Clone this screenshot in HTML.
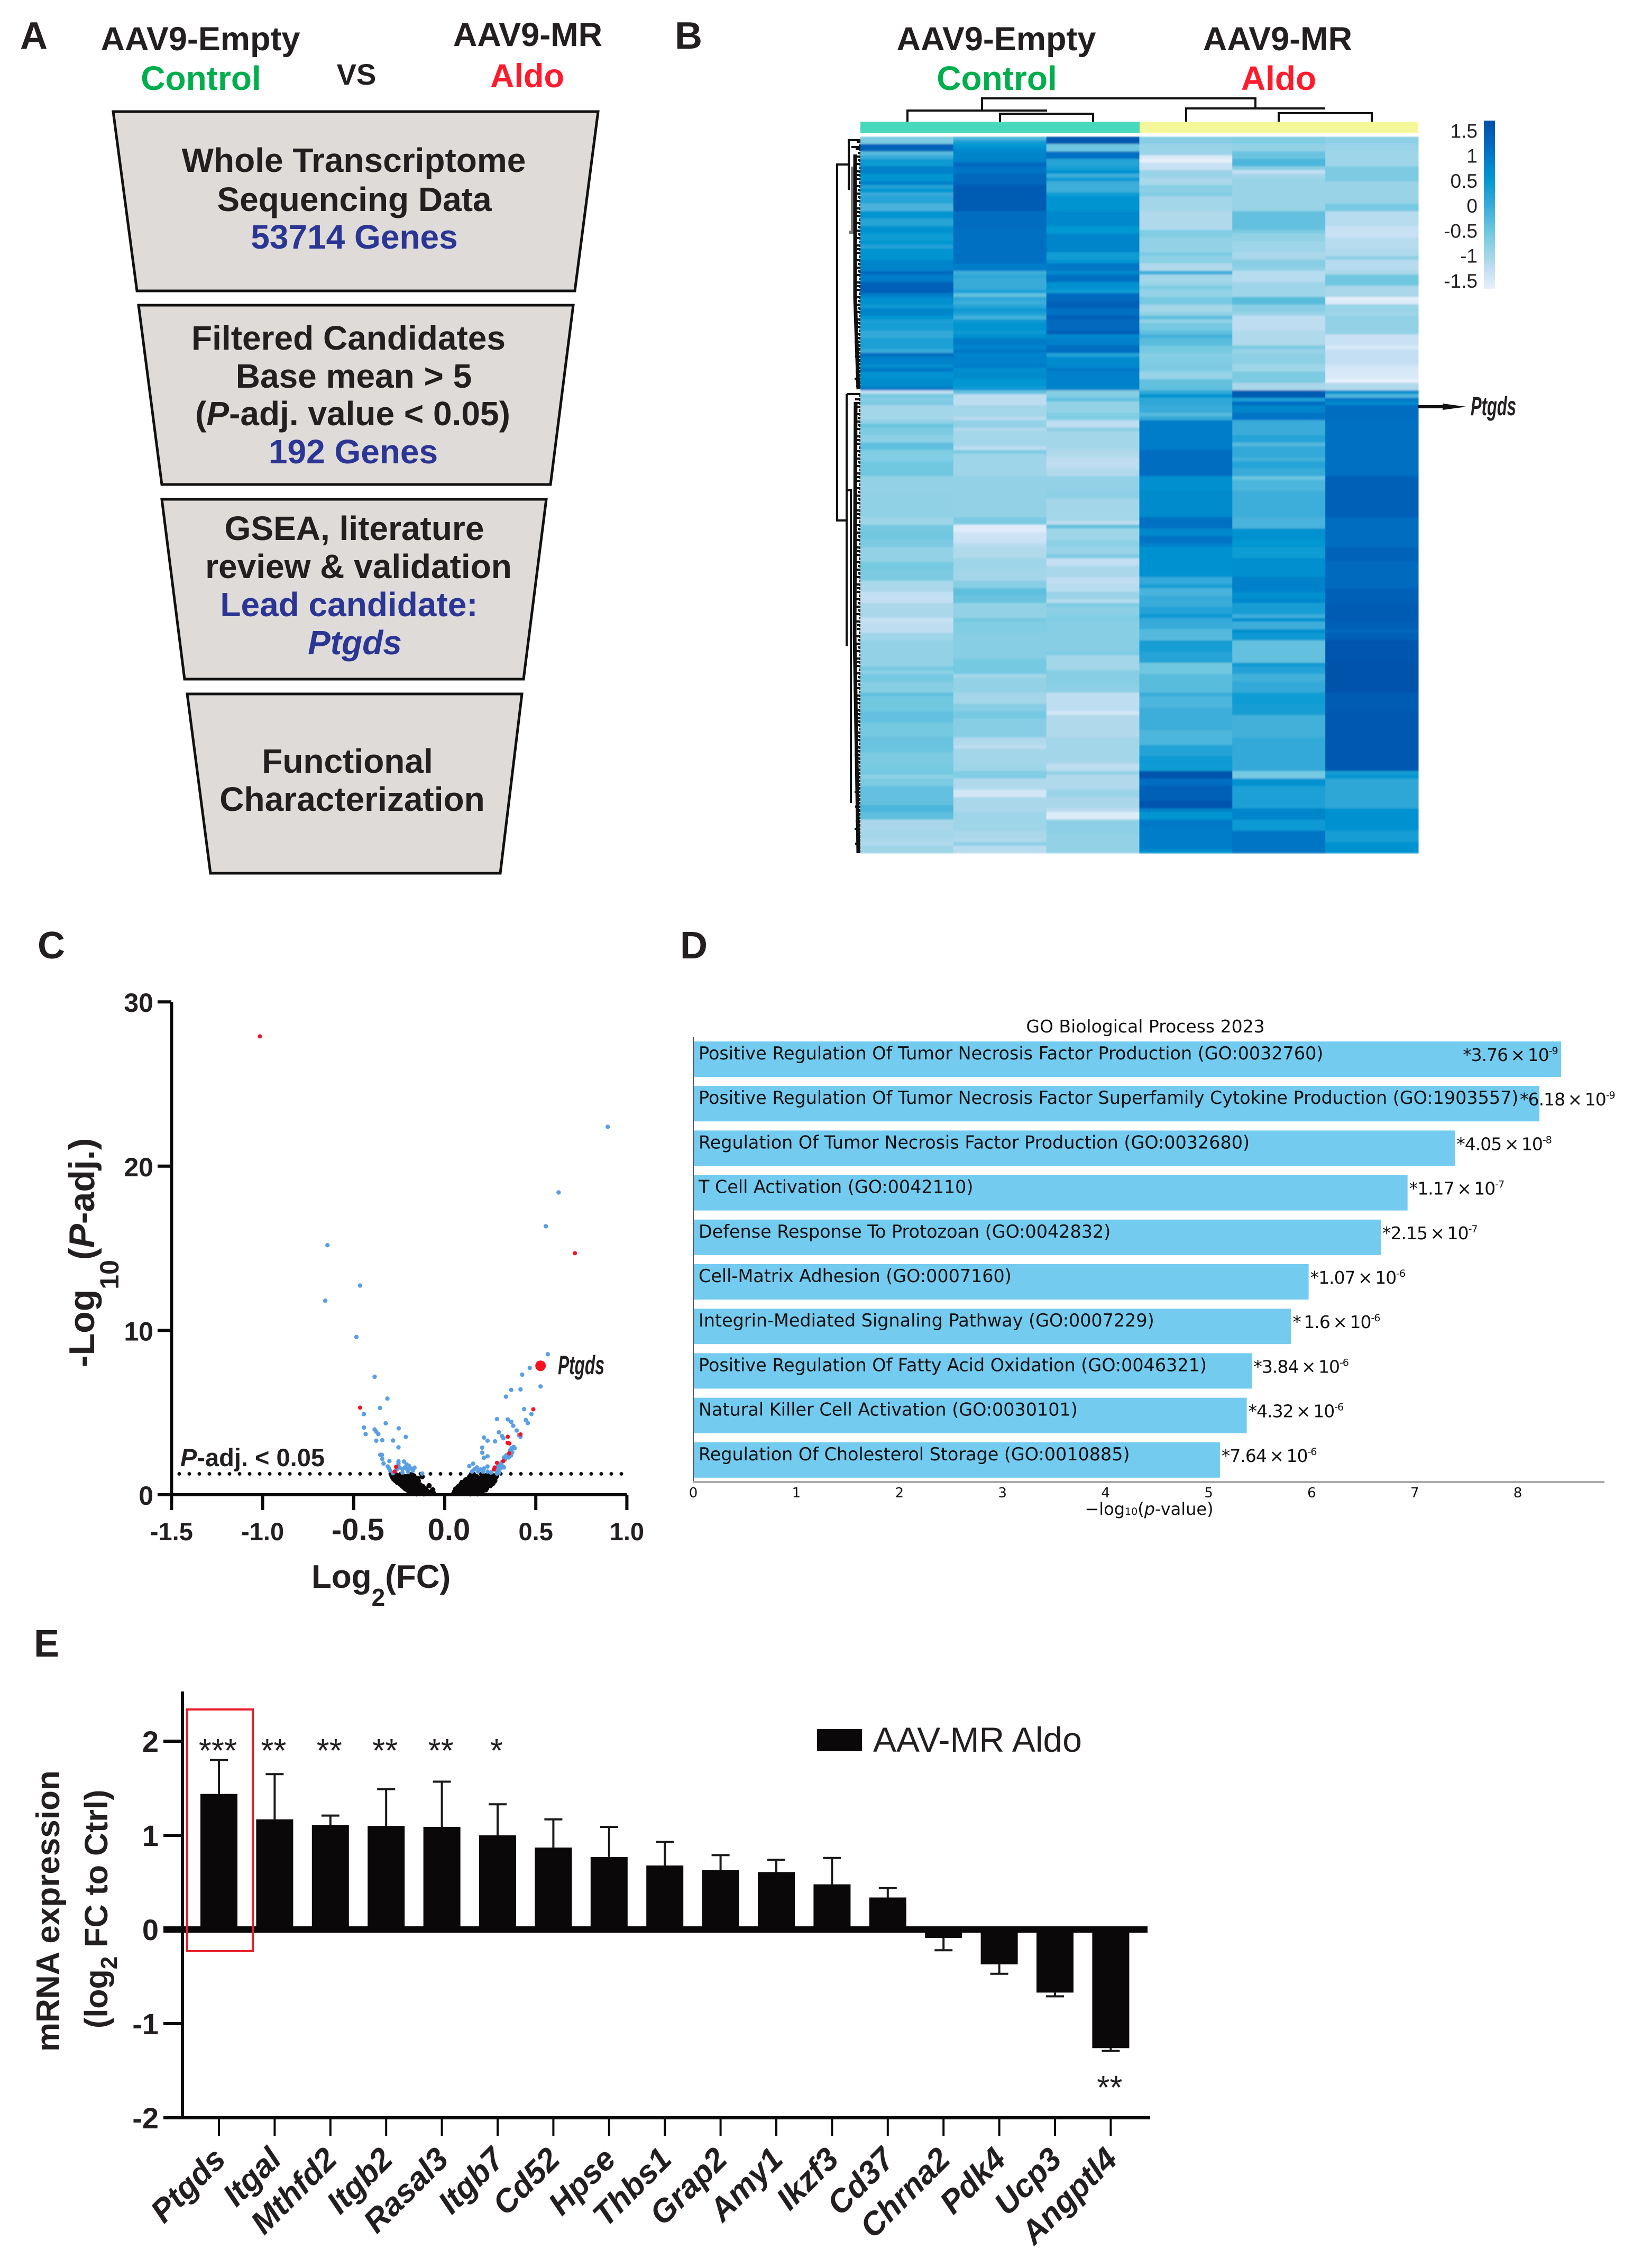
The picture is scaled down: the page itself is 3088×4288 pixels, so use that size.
<!DOCTYPE html>
<html lang="en">
<head>
<meta charset="utf-8">
<title>AAV9-MR Aldo transcriptomics figure</title>
<style>
html,body{margin:0;padding:0;background:#fff}
svg{display:block}
text{font-family:"Liberation Sans",sans-serif;fill:#231f20}
.b{font-weight:700}
.gr{fill:#00ae4d}
.rd{fill:#ff1a2c}
.nv{fill:#2b3594}
.trap{fill:#dedbd8;stroke:#111;stroke-width:5}
.dj{font-family:"DejaVu Sans",sans-serif;font-size:30px;fill:#111}
</style>
</head>
<body>
<svg id="figure" xmlns="http://www.w3.org/2000/svg" width="3088" height="4288" viewBox="0 0 3088 4288">
<rect width="3088" height="4288" fill="#fff"/>

<g id="panel-a">
<text class="b" x="64" y="92" font-size="72" text-anchor="middle">A</text>
<text class="b" x="379" y="95" font-size="63" text-anchor="middle">AAV9-Empty</text>
<text class="b gr" x="380" y="170" font-size="64" text-anchor="middle">Control</text>
<text class="b" x="674" y="160" font-size="56" text-anchor="middle">VS</text>
<text class="b" x="998" y="87" font-size="63" text-anchor="middle">AAV9-MR</text>
<text class="b rd" x="997" y="165" font-size="63" text-anchor="middle">Aldo</text>
<polygon class="trap" points="214,211 1131,211 1087,550 259,550"/>
<polygon class="trap" points="262,577 1084,577 1041,916 306,916"/>
<polygon class="trap" points="306,944 1033,944 990,1284 349,1284"/>
<polygon class="trap" points="354,1312 987,1312 946,1651 398,1651"/>
<g class="b" font-size="64" text-anchor="middle">
<text class="b" x="669" y="325">Whole Transcriptome</text>
<text class="b" x="670" y="399">Sequencing Data</text>
<text class="b nv" x="670" y="470">53714 Genes</text>
<text class="b" x="659" y="661">Filtered Candidates</text>
<text class="b" x="669" y="733">Base mean &gt; 5</text>
<text class="b" x="667" y="804">(<tspan font-style="italic">P</tspan>-adj. value &lt; 0.05)</text>
<text class="b nv" x="668" y="876">192 Genes</text>
<text class="b" x="670" y="1021">GSEA, literature</text>
<text class="b" x="678" y="1093">review &amp; validation</text>
<text class="b nv" x="660" y="1165">Lead candidate:</text>
<text class="b nv" x="671" y="1237" font-style="italic">Ptgds</text>
<text class="b" x="657" y="1461">Functional</text>
<text class="b" x="666" y="1533">Characterization</text>
</g>
</g>

<g id="panel-b">
<text class="b" x="1302" y="92" font-size="72" text-anchor="middle">B</text>
<text class="b" x="1884" y="95" font-size="63" text-anchor="middle">AAV9-Empty</text>
<text class="b gr" x="1885" y="170" font-size="64" text-anchor="middle">Control</text>
<text class="b" x="2416" y="95" font-size="63" text-anchor="middle">AAV9-MR</text>
<text class="b rd" x="2418" y="170" font-size="64" text-anchor="middle">Aldo</text>
<rect x="1627" y="230" width="528" height="21" fill="#48d9bd"/>
<rect x="2155" y="230" width="527" height="21" fill="#f5f79b"/>
<path d="M1857 208V186H2374V206M1716 230V209H1980M1891 230V215H2067V230M2243 230V205H2506M2418 230V214H2594V230" fill="none" stroke="#111" stroke-width="4"/>
<path d="M1605 311H1583V984H1600M1627 265H1605V359M1627 278H1610M1601 745H1627M1601 745V1222M1601 927H1609V1518" fill="none" stroke="#111" stroke-width="4"/>
<path d="M1612 315V439H1605" fill="none" stroke="#777" stroke-width="6"/>
<g id="row-dendro-clump"></g>
<defs>
<linearGradient id="cbar" x1="0" y1="1" x2="0" y2="0"></linearGradient>
<filter id="rowBlur" x="0" y="0" width="100%" height="100%"><feGaussianBlur stdDeviation="0 1.6"/></filter>
</defs>
<g id="heatmap-cells" filter="url(#rowBlur)"></g>
<rect x="2806" y="228" width="21" height="318" fill="url(#cbar)"/>
<g id="cbar-labels"></g>
<path d="M2682 769H2735" stroke="#111" stroke-width="6"/>
<polygon points="2728,763 2773,769 2728,775" fill="#111"/>
<text x="2781" y="785" font-size="50" font-style="italic" font-weight="700" textLength="86" lengthAdjust="spacingAndGlyphs">Ptgds</text>
</g>

<g id="panel-c">
<text class="b" x="97" y="1812" font-size="72" text-anchor="middle">C</text>
<g id="volcano"></g>
<text class="b" x="341" y="2772" font-size="47"><tspan font-style="italic">P</tspan>-adj. &lt; 0.05</text>
<text class="b" x="589" y="3002" font-size="62">Log<tspan font-size="46" dy="34">2</tspan><tspan dy="-34">(FC)</tspan></text>
<text class="b" transform="translate(178 2585) rotate(-90)" font-size="68">-Log<tspan font-size="50" dy="46">10</tspan><tspan dy="-46">(</tspan><tspan font-style="italic">P</tspan>-adj.)</text>
<text x="1055" y="2598" font-size="50" font-style="italic" font-weight="700" textLength="88" lengthAdjust="spacingAndGlyphs">Ptgds</text>
</g>

<g id="panel-d">
<text class="b" x="1312" y="1812" font-size="72" text-anchor="middle">D</text>
<text class="dj" x="2166" y="1952" text-anchor="middle" style="font-size:33px">GO Biological Process 2023</text>
<g id="go-bars"></g>
<path d="M1311 1961V2802" stroke="#555" stroke-width="2" fill="none"/>
<path d="M1311 2802H3034" stroke="#aaa" stroke-width="4" fill="none"/>
<text class="dj" x="2173" y="2864" text-anchor="middle" style="font-size:32px">−log<tspan font-size="19">10</tspan>(<tspan font-style="italic">p</tspan>-value)</text>
</g>

<g id="panel-e">
<text class="b" x="88" y="3132" font-size="72" text-anchor="middle">E</text>
<g id="expr"></g>
<rect x="354" y="3232" width="124" height="457" fill="none" stroke="#e8202a" stroke-width="4"/>
<rect x="1545" y="3269" width="85" height="42" fill="#0a0808"/>
<text x="1651" y="3312" font-size="66">AAV-MR Aldo</text>
<text class="b" transform="translate(112 3879) rotate(-90)" font-size="62">mRNA expression</text>
<text class="b" transform="translate(203 3835) rotate(-90)" font-size="61">(log<tspan font-size="44" dy="18">2</tspan><tspan dy="-18"> FC to Ctrl)</tspan></text>
</g>
</svg>

<script>
/* ---------- Panel B: heatmap z-scores, per sample, as [rows, z-score] runs ---------- */
const empty1 = [[2,-.6],[2,1.2],[1,-.3],[1,0],[2,.4],[2,.8],[2,.5],[1,.8],[1,.2],[1,.5],[1,0],[2,.15],[2,-.15],[2,.5],[2,.15],[2,.55],[2,.35],[1,.5],[1,.2],[3,.5],[3,.75],[1,1.1],[2,.85],[3,1.25],[1,.85],[2,.6],[1,.4],[2,.75],[1,.5],[1,.25],[2,.3],[2,.05],[3,.25],[1,0],[1,1.05],[2,.8],[1,.6],[1,.9],[2,.55],[2,.65],[1,.85],
[1,-1.15],[1,-.55],[1,-.7],[1,-.6],[4,-.95],[1,-.75],[1,-.45],[2,-.6],[2,-.75],[2,-.35],[3,-.65],[4,-.5],[4,-.8],[7,-.78],[2,-.9],[2,-.55],[2,-.5],[2,-.6],[4,-.8],[2,-.55],[3,-.6],[3,-1],[3,-1.2],[4,-1],[1,-1.25],
[3,-1.15],[2,-.9],[7,-.8],[1,-.55],[1,-.75],[2,-.55],[3,-.7],[1,-.35],[4,-.5],[3,-.4],[4,-.55],[2,-.45],[2,-.45],[3,-.6],[3,-.55],[1,-.75],[2,-.6],[5,-.4],[2,-.2],[2,-.35],[3,-1],[2,-.95],[1,-1],[1,-1.05],[2,-.9]];
const empty2 = [[1,-.2],[1,.3],[1,.45],[1,.65],[2,.75],[1,.8],[1,1.15],[1,.95],[1,.95],[3,1.15],[7,1.35],[5,1.05],[5,1],[4,1],[2,.85],[1,-.05],[1,.1],[3,0],[1,.25],[1,-.4],[1,.1],[1,-.05],[1,.15],[1,.4],[1,.25],[1,-.1],[1,.4],[2,.5],[1,.4],[1,.55],[2,.85],[1,.75],[1,.9],[1,.75],[2,.8],[1,.85],[1,.6],[2,.65],[2,.45],[1,.4],
[1,-.4],[3,-1.15],[3,-.95],[1,-1.1],[2,-.8],[1,-1.05],[4,-.95],[1,-1.15],[1,-.6],[6,-.9],[7,-.8],[4,-.8],[2,-.6],[2,-1.45],[2,-1.3],[1,-1.25],[1,-1.1],[3,-1.05],[3,-.9],[3,-.95],[2,-.7],[2,-.35],[2,-.45],[4,-.8],[1,-.55],
[3,-.65],[7,-.7],[4,-.55],[1,-.95],[4,-.8],[3,-.95],[2,-.7],[2,-.55],[5,-.7],[2,-1.05],[1,-1.15],[4,-.95],[2,-.9],[2,-.65],[3,-1.05],[2,-1.35],[4,-1],[5,-.9],[2,-1],[1,-1.05],[1,-.75],[2,-1.1]];
const empty3 = [[2,1.4],[2,-.5],[2,1],[2,.15],[1,.3],[1,.5],[1,-.05],[1,.4],[3,-.05],[1,.35],[4,.5],[4,.7],[2,.45],[4,.75],[1,.75],[2,.35],[1,.55],[2,.9],[1,.7],[2,1],[2,.55],[1,.4],[2,1.1],[2,1.25],[2,1],[1,1.3],[3,1.1],[1,1.3],[1,.7],[2,.8],[2,1.05],[1,.2],[2,.65],[1,.7],[1,.9],[4,.8],[1,.75],
[1,-.7],[1,-.65],[1,-.4],[3,-.8],[2,-.65],[2,-1.15],[1,-.75],[5,-.95],[2,-1.05],[3,-1.15],[2,-1.05],[4,-.8],[2,-.75],[6,-.95],[1,-1.15],[1,-.4],[3,-.9],[2,-.75],[2,-.85],[1,-.6],[2,-1.2],[3,-1],[2,-1.15],[2,-1.1],[2,-.85],[1,-1.1],[1,-.6],[2,-.75],[2,-.65],
[8,-.7],[1,-.6],[4,-.95],[4,-.7],[2,-.75],[5,-1.15],[1,-1.35],[2,-1.05],[4,-1.05],[7,-.95],[2,-1.15],[1,-.8],[4,-1.05],[2,-.85],[3,-1],[1,-1.15],[2,-1.45],[4,-.75],[5,-.8]];
const aldo1 = [[2,-.7],[3,-.85],[1,-1.4],[1,-1.55],[2,-1.25],[2,-.85],[2,-1],[1,-.7],[1,-.75],[1,-.65],[4,-.95],[5,-1.05],[2,-.65],[4,-.8],[1,-.6],[2,-.75],[2,-1.05],[1,-.05],[2,-.95],[1,-.85],[1,-.65],[2,-.8],[2,-.55],[2,-.95],[1,-.8],[1,-.35],[1,-.8],[2,-.55],[1,-.35],[1,-.1],[2,-.3],[2,-.55],[1,-.7],[2,-.65],[2,-.6],[2,-.85],[2,-.4],[1,-.35],
[1,.05],[1,.5],[2,.1],[2,0],[1,-.25],[1,.05],[8,.85],[7,1.05],[4,.6],[7,.65],[3,1],[2,.7],[2,.95],[1,.8],[3,.55],[5,.55],[2,.05],[1,.3],[2,-.15],[3,0],[2,.2],[1,.4],[1,.05],
[2,0],[3,-.25],[3,.3],[3,.15],[3,-.5],[5,-.3],[1,0],[3,-.2],[6,-.05],[4,-.2],[3,.2],[2,.4],[2,.35],[2,1.5],[2,1.05],[4,1.3],[2,1.45],[1,.8],[2,.5],[2,.9],[6,.85],[1,.6]];
const aldo2 = [[2,-.65],[2,-.8],[2,-.45],[2,-.2],[1,-.7],[1,-1.2],[1,-.95],[9,-.85],[5,-.4],[1,-.6],[2,-.8],[3,-.9],[2,-1],[2,-.7],[1,-.8],[3,-1.1],[4,-.9],[2,-.3],[2,-.7],[1,-.85],[4,-1.15],[4,-1.05],[1,-.6],[1,-.85],[3,-.75],[2,-.9],[3,-.6],[2,-1],
[2,1.35],[1,.3],[1,1.05],[2,.75],[2,.95],[4,-.02],[2,.15],[1,-.25],[3,.05],[1,-.1],[2,.15],[2,0],[1,-.45],[3,-.2],[2,-.05],[5,-.05],[3,-.15],[3,.55],[2,.45],[3,.35],[5,.6],[4,.8],[2,.6],[1,.7],[3,.3],[1,-.05],[1,.55],
[2,-.05],[1,.6],[2,.4],[6,-.4],[1,.4],[2,.2],[2,-.1],[3,.05],[3,.35],[3,.3],[6,-.1],[9,.05],[2,-.55],[2,.55],[6,.25],[3,.75],[3,.4],[6,.95]];
const aldo3 = [[2,-.75],[2,-.85],[4,-.9],[4,-.6],[6,-.85],[2,-.55],[4,-1.1],[3,-1.25],[3,-1.1],[2,-1.05],[1,-.75],[3,-1.1],[1,-1],[3,-.5],[3,-1],[1,-1.5],[1,-1.4],[2,-.85],[1,-.9],[5,-.8],[3,-1.25],[1,-1.4],[4,-1.2],[1,-1.3],[3,-1.4],[1,-1.55],[2,-1.05],
[1,.6],[1,-.2],[1,.9],[1,.7],[4,1.05],[15,1],[11,1.25],[8,1.05],[4,1.2],[7,1.1],[4,1.25],[5,1.35],
[2,1.3],[1,1.15],[2,1.3],[6,1.45],[8,1.5],[5,1.35],[16,1.4],[1,.3],[1,.5],[8,.1],[6,.55],[3,.3],[3,.55]];
const heatmapSamples = [empty1, empty2, empty3, aldo1, aldo2, aldo3];
const colorStops = [-1.55,-1.2,-1,-.8,-.5,0,.5,.75,1,1.3,1.55];
const colorValues = ['#e8f0fb','#c4dff3','#aad7ea','#93d2e6','#6fc7e0','#38abd9','#0095d1','#0085cb','#0070c3','#005eb6','#004fa8'];
const scaleTickValues = [1.5,1,.5,0,-.5,-1,-1.5];
const scaleTickLabels = ['1.5','1','0.5','0','-0.5','-1','-1.5'];

/* ---------- Panel C: volcano, [log2FC, -log10 P-adj] ---------- */
const volcanoXTicks = [-1.5,-1,-.5,0,.5,1];
const volcanoXLabels = ['-1.5','-1.0','-0.5','0.0','0.5','1.0'];
const volcanoYTicks = [0,10,20,30];
const significanceLine = 1.27;
const nsGenes = [[-.29,1.15],[-.285,1.05],[-.28,.95],[-.27,.85],[-.26,.75],[-.265,1.2],[-.255,1.1],[-.25,.95],[-.245,.65],[-.24,.85],[-.235,1.2],[-.23,1.05],[-.235,.55],[-.225,.45],[-.225,.75],[-.22,.95],[-.215,.35],[-.21,.6],[-.21,.85],[-.205,1.1],[-.2,.25],[-.2,.45],[-.2,.7],[-.195,.95],[-.19,.12],[-.19,.35],[-.185,.55],[-.18,1.2],[-.18,.8],[-.175,1.05],[-.175,.2],[-.17,.4],[-.17,.65],[-.165,.9],[-.16,.1],[-.16,.3],[-.155,.5],[-.15,.75],[-.145,.2],[-.14,.4],[-.135,.6],[-.13,.1],[-.125,.3],[-.124,1.1],[-.12,.5],[-.11,.15],[-.105,.35],[-.1,.25],[-.095,.1],[-.086,.55],[-.08,.15],[-.066,.3],[-.06,.08],[-.15,1],[-.19,.75],
[-.275,1.05],[-.265,.9],[-.255,.8],[-.25,.75],[-.245,1.05],[-.24,.7],[-.23,.65],[-.23,.9],[-.22,.55],[-.215,.7],[-.215,1.1],[-.205,.5],[-.205,.95],[-.195,.6],[-.195,.3],[-.19,.5],[-.185,.2],[-.185,.9],[-.18,.45],[-.18,.1],[-.17,.15],[-.17,.55],[-.165,.75],[-.16,.2],[-.155,.05],[-.15,.35],[-.15,.1],[-.145,.6],[-.14,.25],[-.135,.1],[-.13,.45],[-.12,.2],[-.115,.05],[-.11,.3],[-.17,1.15],[-.16,1],[-.145,.85],
[.05,.08],[.055,.2],[.06,.35],[.07,.1],[.07,.3],[.075,.5],[.085,.2],[.085,.4],[.09,.65],[.095,.1],[.095,.75],[.105,.3],[.105,.55],[.11,.8],[.115,.15],[.12,.4],[.12,.65],[.125,.95],[.13,.25],[.135,.8],[.137,1.1],[.14,.05],[.14,.5],[.15,.3],[.15,.7],[.155,.95],[.157,1.25],[.16,.1],[.165,.5],[.17,.8],[.175,1.1],[.175,.25],[.18,.05],[.185,.6],[.19,.95],[.195,.4],[.195,.1],[.2,.75],[.205,1.2],[.21,.25],[.215,.55],[.22,.9],[.225,1.15],[.23,.4],[.235,.7],[.24,1],[.25,.55],[.255,.85],[.26,1.15],[.265,.7],[.27,.95],[.275,.85],[.28,1.05],[.285,1.15],[.2,1.05],[.235,1.2],[.25,1.05],
[.06,.15],[.065,.25],[.08,.3],[.08,.1],[.09,.3],[.1,.45],[.1,.2],[.11,.4],[.11,.65],[.115,.9],[.12,.25],[.125,.5],[.13,.75],[.13,.1],[.14,.35],[.145,.65],[.145,.95],[.15,.15],[.155,.45],[.16,.75],[.165,.2],[.165,1.05],[.17,.35],[.175,.6],[.18,.9],[.185,.3],[.19,.5],[.19,.75],[.195,.2],[.2,.55],[.205,.9],[.21,.4],[.215,.75],[.22,.55],[.225,.75],[.225,.3],[.23,.95],[.24,.55],[.24,.8],[.245,.75],[.25,.9],[.26,.85],[.265,1.05],[.27,1.15],[.215,1.05]];
const sigGenes = [[.895,22.4],[.625,18.4],[.555,16.34],[-.644,15.19],[-.465,12.73],[-.656,11.81],[-.485,9.6],[-.385,7.18],[-.315,5.85],[-.355,5.28],[-.444,4.91],[-.324,4.35],[-.444,4.09],[-.434,3.69],[-.385,3.97],[-.376,3.84],[-.365,3.69],[-.253,4.04],[-.214,3.52],[-.376,3.29],[-.343,3.32],[-.284,3.3],[-.254,2.88],[-.354,2.43],[-.345,2.42],[-.343,2.18],[-.336,1.9],[-.304,2.05],[-.254,2.03],[-.254,1.88],[-.224,2.02],[-.209,1.84],[-.197,1.76],[-.166,1.65],[-.313,1.72],[-.307,1.62],[-.299,1.47],[-.284,1.31],[-.264,1.54],[-.249,1.66],[-.232,1.56],[-.219,1.66],[-.206,1.54],[-.187,1.6],[-.174,1.47],[-.124,1.29],[-.232,1.35],[-.2,1.39],
[.566,8.55],[.467,7.72],[.425,7.31],[.526,6.59],[.365,6.38],[.416,6.41],[.336,5.97],[.436,5.21],[.476,4.91],[.287,4.6],[.346,4.58],[.365,4.44],[.376,4.2],[.445,4.55],[.456,4.36],[.297,3.8],[.395,3.91],[.407,3.63],[.416,3.53],[.215,3.48],[.235,3.29],[.276,3.25],[.315,3.57],[.322,3.44],[.206,2.87],[.206,2.56],[.235,2.34],[.215,2.25],[.156,1.89],[.135,1.74],[.379,2.91],[.367,2.83],[.384,2.83],[.358,2.7],[.371,2.58],[.364,2.4],[.351,2.27],[.338,2.4],[.325,2.27],[.332,2.15],[.312,1.97],[.306,1.84],[.293,1.72],[.319,1.72],[.306,1.6],[.287,1.47],[.325,1.66],[.299,1.35],[.235,1.72],[.215,1.6],[.196,1.54],[.176,1.66],[.163,1.54],[.183,1.41],[.209,1.41],[.235,1.41],[.254,1.35],[.15,1.41],[.274,1.54],[.287,1.29]];
const candidateGenes = [[-1.015,27.9],[.715,14.7],[-.465,5.3],[.486,5.2],[.346,3.53],[.345,3.16],[.355,3.12],[.416,3.67],[.354,2.52],[.322,2.05],[.287,1.94],[.274,1.66],[.27,1.54],[-.275,1.41],[-.267,1.7]];
const ptgdsGene = [.526,7.85];

/* ---------- Panel D: GO enrichment ---------- */
const goTerms = ['Positive Regulation Of Tumor Necrosis Factor Production (GO:0032760)','Positive Regulation Of Tumor Necrosis Factor Superfamily Cytokine Production (GO:1903557)','Regulation Of Tumor Necrosis Factor Production (GO:0032680)','T Cell Activation (GO:0042110)','Defense Response To Protozoan (GO:0042832)','Cell-Matrix Adhesion (GO:0007160)','Integrin-Mediated Signaling Pathway (GO:0007229)','Positive Regulation Of Fatty Acid Oxidation (GO:0046321)','Natural Killer Cell Activation (GO:0030101)','Regulation Of Cholesterol Storage (GO:0010885)'];
const goScores = [8.42,8.21,7.39,6.93,6.67,5.97,5.80,5.42,5.37,5.11];
const goPMantissa = ['*3.76','*6.18','*4.05','*1.17','*2.15','*1.07','* 1.6','*3.84','*4.32','*7.64'];
const goPExponent = ['-9','-9','-8','-7','-7','-6','-6','-6','-6','-6'];
const goXTicks = [0,1,2,3,4,5,6,7,8];

/* ---------- Panel E: qPCR expression ---------- */
const genes = ['Ptgds','Itgal','Mthfd2','Itgb2','Rasal3','Itgb7','Cd52','Hpse','Thbs1','Grap2','Amy1','Ikzf3','Cd37','Chrna2','Pdk4','Ucp3','Angptl4'];
const foldChange = [1.44,1.17,1.11,1.10,1.09,1.00,.87,.77,.68,.63,.61,.48,.34,-.09,-.37,-.67,-1.26];
const foldError = [.36,.48,.10,.39,.48,.33,.30,.32,.25,.16,.13,.28,.10,.13,.10,.04,.03];
const significance = ['***','**','**','**','**','*','','','','','','','','','','','**'];
const exprYTicks = [2,1,0,-1,-2];

/* ---------- Rendering ---------- */
const NS = 'http://www.w3.org/2000/svg';
function node(parent, tag, attrs, txt) {
  const el = document.createElementNS(NS, tag);
  for (const k in attrs) el.setAttribute(k, attrs[k]);
  if (txt !== undefined) el.textContent = txt;
  parent.appendChild(el);
  return el;
}
function hexToRgb(h) { return [1,3,5].map(i => parseInt(h.substr(i,2),16)); }
function zColor(z) {
  const v = Math.max(colorStops[0], Math.min(colorStops[colorStops.length-1], z));
  let i = 0;
  while (i < colorStops.length-2 && v > colorStops[i+1]) i++;
  const t = (v-colorStops[i])/(colorStops[i+1]-colorStops[i]);
  const a = hexToRgb(colorValues[i]), b = hexToRgb(colorValues[i+1]);
  return 'rgb(' + a.map((c,j) => Math.round(c+(b[j]-c)*t)).join(',') + ')';
}

/* heatmap */
const heatLeft = 1627, heatTop = 258, heatW = 1055, heatH = 1355, heatRowCount = 192;
const cellW = heatW/heatmapSamples.length, cellH = heatH/heatRowCount;
const cellsG = document.getElementById('heatmap-cells');
heatmapSamples.forEach((runs, col) => {
  let row = 0;
  runs.forEach(run => {
    for (let k = 0; k < run[0]; k++) {
      const el = node(cellsG, 'rect', {
        x: (heatLeft+col*cellW).toFixed(1), y: (heatTop+row*cellH).toFixed(2),
        width: (cellW+.5).toFixed(1), height: (cellH+.6).toFixed(2), fill: zColor(run[1])
      });
      
      
      row++;
    }
  });
});

/* colour scale */
const grad = document.getElementById('cbar');
colorStops.forEach((s,i) => {
  node(grad,'stop',{offset: ((s-colorStops[0])/(colorStops[colorStops.length-1]-colorStops[0])*100).toFixed(1)+'%','stop-color':colorValues[i]});
});
const cbarG = document.getElementById('cbar-labels');
const cbarY = v => 393 - v*94.5;
scaleTickValues.forEach((v,i) => {
  const el = node(cbarG,'text',{x:2794,y:(cbarY(v)+9).toFixed(1),'font-size':37,'text-anchor':'end',fill:'#222'},scaleTickLabels[i]);
  
  
});

/* row dendrogram leaves */
const clump = document.getElementById('row-dendro-clump');
const leafDepth = [7,3,9,5,11,4,8,2,10,6];
let leafPathTop = '', leafIdx = 0;
for (let y = 268; y < 736; y += 7) { leafPathTop += 'M'+(1627-leafDepth[leafIdx%10])+' '+y+'H1627V'+(y+3); leafIdx++; }
for (let y = 748; y < 1613; y += 7) { leafPathTop += 'M'+(1627-leafDepth[leafIdx%10])+' '+y+'H1627V'+(y+3); leafIdx++; }
const leafPath = node(clump,'path',{d:leafPathTop,fill:'none',stroke:'#111','stroke-width':4});


const leafSpine = node(clump,'path',{d:'M1617 292L1617 563L1623 736M1618 760L1616 1200L1623 1613',fill:'none',stroke:'#111','stroke-width':7});



/* volcano */
const vg = document.getElementById('volcano');
const vx = v => 841 + v*344.4;
const vy = v => 2826 - v*31.06;
const sigLine = node(vg,'line',{x1:339,x2:1184,y1:vy(significanceLine),y2:vy(significanceLine),stroke:'#111','stroke-width':7,'stroke-linecap':'round','stroke-dasharray':'0 19'});


nsGenes.forEach(p => {
  const el = node(vg,'circle',{cx:vx(p[0]).toFixed(1),cy:vy(p[1]).toFixed(1),r:5,fill:'#0a0808'});
  
  
});
sigGenes.forEach(p => {
  const el = node(vg,'circle',{cx:vx(p[0]).toFixed(1),cy:vy(p[1]).toFixed(1),r:4.2,fill:'#5a9fe3'});
  
  
});
candidateGenes.forEach(p => {
  const el = node(vg,'circle',{cx:vx(p[0]).toFixed(1),cy:vy(p[1]).toFixed(1),r:4,fill:'#f21420'});
  
  
});
const ptgdsPoint = node(vg,'circle',{cx:vx(ptgdsGene[0]).toFixed(1),cy:vy(ptgdsGene[1]).toFixed(1),r:10,fill:'#f8101e'});


const vAxes = node(vg,'path',{d:'M'+vx(-1.5)+' '+vy(30)+'V'+vy(0)+'H'+vx(1),fill:'none',stroke:'#0a0808','stroke-width':6});


volcanoYTicks.forEach(t => {
  const tick = node(vg,'line',{x1:298,x2:324,y1:vy(t),y2:vy(t),stroke:'#0a0808','stroke-width':6});
  
  
  const lab = node(vg,'text',{x:290,y:vy(t)+19,'font-size':50,'font-weight':700,'text-anchor':'end'},String(t));
  
  
});
volcanoXTicks.forEach((t,i) => {
  const tick = node(vg,'line',{x1:vx(t),x2:vx(t),y1:vy(0),y2:2855,stroke:'#0a0808','stroke-width':6});
  
  
  const big = volcanoXLabels[i]==='-0.5' || volcanoXLabels[i]==='0.0';
  const lab = node(vg,'text',{x:vx(t)+(big?8:0),y:2912,'font-size':big?58:47,'font-weight':700,'text-anchor':'middle'},volcanoXLabels[i]);
  
  
});

/* GO bars */
const gg = document.getElementById('go-bars');
const gx = v => 1311 + v*194.9;
const gBarY = i => 1969 + i*84.2;
const goStarOffset = i => i===0 ? -186 : i===1 ? -37 : 3;
goScores.forEach((v,i) => {
  const bar = node(gg,'rect',{x:gx(0),y:gBarY(i).toFixed(1),width:(gx(v)-gx(0)).toFixed(1),height:67,fill:'#74cbf0'});
  
  
});
goTerms.forEach((term,i) => {
  const lab = node(gg,'text',{x:1321,y:(gBarY(i)+34).toFixed(1),class:'dj',style:'font-size:33.4px'},term);
  
  
  const p = node(gg,'text',{x:(gx(goScores[i])+goStarOffset(i)).toFixed(1),y:(gBarY(i)+37).toFixed(1),class:'dj',style:'font-size:33px;letter-spacing:-1px;word-spacing:-4px'});
  
  
  p.appendChild(document.createTextNode(goPMantissa[i]+' × 10'));
  node(p,'tspan',{'font-size':19,dy:-13},goPExponent[i]);
});
goXTicks.forEach(t => {
  const lab = node(gg,'text',{x:gx(t),y:2831,class:'dj','text-anchor':'middle',style:'font-size:26px'},String(t));
  
  
});

/* expression bars */
const eg = document.getElementById('expr');
const ex = i => 414 + i*105.4;
const ey = v => 3648 - v*178;
foldChange.forEach((v,i) => {
  const top = Math.min(ey(v),ey(0));
  const bar = node(eg,'rect',{x:(ex(i)-35).toFixed(1),y:top.toFixed(1),width:70,height:Math.abs(ey(v)-ey(0)).toFixed(1),fill:'#0a0808'});
  
  
  const end = v >= 0 ? v + foldError[i] : v - foldError[i];
  const err = node(eg,'path',{d:'M'+ex(i).toFixed(1)+' '+ey(v).toFixed(1)+'V'+ey(end).toFixed(1)+'M'+(ex(i)-17).toFixed(1)+' '+ey(end).toFixed(1)+'H'+(ex(i)+17).toFixed(1),fill:'none',stroke:'#1a1a1a','stroke-width':4});
  
  
  const tick = node(eg,'line',{x1:ex(i).toFixed(1),x2:ex(i).toFixed(1),y1:ey(-2),y2:4038,stroke:'#0a0808','stroke-width':4});
  
  
  const lx = ex(i)+16, ly = 4086;
  const lab = node(eg,'text',{x:lx.toFixed(1),y:ly,'font-size':61,'font-weight':700,'font-style':'italic','text-anchor':'end',transform:'rotate(-45 '+lx.toFixed(1)+' '+ly+')'},genes[i]);
  
  
  if (significance[i]) {
    const s = node(eg,'text',{x:(ex(i)-2).toFixed(1),y:v>0?3331:3968,'font-size':62,'text-anchor':'middle',fill:'#111'},significance[i]);
    
    
  }
});
const eAxis = node(eg,'path',{d:'M345 3198V'+ey(-2)+'M309 '+ey(-2)+'H2175',fill:'none',stroke:'#0a0808','stroke-width':6});


const zeroLine = node(eg,'line',{x1:309,x2:2170,y1:ey(0),y2:ey(0),stroke:'#0a0808','stroke-width':12});


exprYTicks.forEach(t => {
  const tick = node(eg,'line',{x1:309,x2:345,y1:ey(t),y2:ey(t),stroke:'#0a0808','stroke-width':6});
  
  
  const lab = node(eg,'text',{x:300,y:ey(t)+20,'font-size':56,'font-weight':700,'text-anchor':'end'},String(t));
  
  
});
</script>
</body>
</html>
